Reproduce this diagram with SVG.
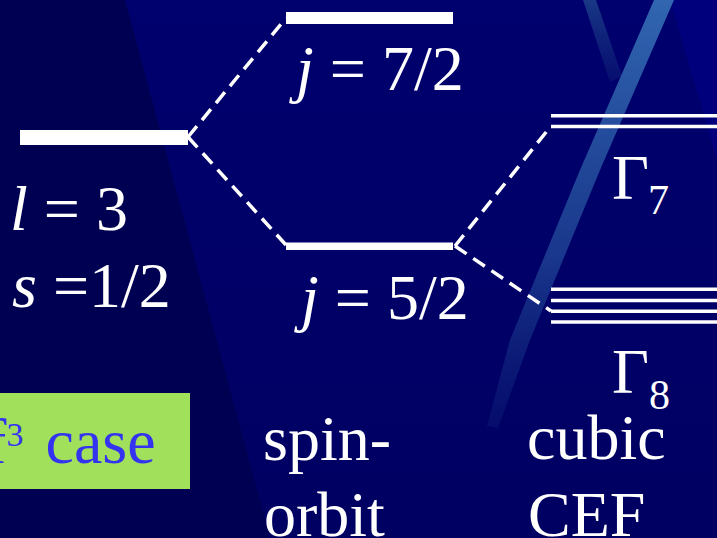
<svg xmlns="http://www.w3.org/2000/svg" width="717" height="538" viewBox="0 0 717 538">
  <defs>
    <linearGradient id="streak" x1="0" y1="0" x2="0" y2="1">
      <stop offset="0" stop-color="#3a78bc" stop-opacity="0.85"/>
      <stop offset="0.6" stop-color="#2a5ca4" stop-opacity="0.6"/>
      <stop offset="1" stop-color="#1a3c88" stop-opacity="0.2"/>
    </linearGradient>
    <linearGradient id="streak2" x1="0" y1="0" x2="0" y2="1">
      <stop offset="0" stop-color="#20468c" stop-opacity="0.8"/>
      <stop offset="1" stop-color="#14307a" stop-opacity="0.3"/>
    </linearGradient>
    <linearGradient id="bg" x1="0" y1="0" x2="0" y2="1">
      <stop offset="0" stop-color="#00006e"/>
      <stop offset="1" stop-color="#000062"/>
    </linearGradient>
  </defs>
  <style>
    .t { font-family: "Liberation Serif", "Times New Roman", serif; fill: #ffffff; font-size: 64px; }
    .it { font-style: italic; }
    .sub { font-size: 42px; }
    .bar { fill: #ffffff; }
    .thin { stroke: #ffffff; stroke-width: 3.6; }
    .dash { stroke: #ffffff; stroke-width: 3.5; stroke-dasharray: 14 8; fill: none; }
    .blue { font-family: "Liberation Serif", "Times New Roman", serif; fill: #3434f0; font-size: 64px; }
    .sup { font-size: 34px; }
  </style>

  <!-- background -->
  <g id="background">
    <rect x="0" y="0" width="717" height="538" fill="url(#bg)"/>
    <polygon points="0,0 125,0 270,538 0,538" fill="#000052"/>
    <polygon points="670,0 717,0 717,160" fill="#00007c"/>
    <polygon points="583,0 596,0 622,76 610,82" fill="url(#streak2)"/>
    <polygon points="654,0 674,0 600,170 530,340 498,428 487,426 510,340 580,170" fill="url(#streak)"/>
  </g>

  <!-- connectors -->
  <g id="connectors">
    <line class="dash" x1="188" y1="137" x2="286" y2="18"/>
    <line class="dash" x1="188" y1="137" x2="286" y2="245"/>
    <line class="dash" x1="455" y1="246" x2="551" y2="126"/>
    <line class="dash" x1="455" y1="246" x2="551" y2="311"/>
  </g>

  <!-- nodes -->
  <g id="level-l3">
    <rect class="bar" x="20" y="130" width="168" height="15"/>
    <text class="t" x="10" y="230"><tspan class="it">l</tspan> = 3</text>
    <text class="t" x="12" y="307"><tspan class="it">s</tspan> =1/2</text>
  </g>

  <g id="level-j72">
    <rect class="bar" x="286" y="12" width="167" height="12"/>
    <text class="t" x="296" y="90"><tspan class="it">j</tspan> = 7/2</text>
  </g>

  <g id="level-j52">
    <rect class="bar" x="286" y="242.5" width="167" height="7.5"/>
    <text class="t" x="301" y="319"><tspan class="it">j</tspan> = 5/2</text>
  </g>

  <g id="level-g7">
    <line class="thin" x1="551" y1="115.7" x2="717" y2="115.7"/>
    <line class="thin" x1="551" y1="126.5" x2="717" y2="126.5"/>
    <text class="t" x="612" y="199">Γ</text>
    <text class="t sub" x="648" y="214">7</text>
  </g>

  <g id="level-g8">
    <line class="thin" x1="551" y1="289.2" x2="717" y2="289.2"/>
    <line class="thin" x1="551" y1="300.5" x2="717" y2="300.5"/>
    <line class="thin" x1="551" y1="311.3" x2="717" y2="311.3"/>
    <line class="thin" x1="551" y1="322" x2="717" y2="322"/>
    <text class="t" x="612" y="393">Γ</text>
    <text class="t sub" x="649" y="409">8</text>
  </g>

  <g id="label-f3">
    <rect x="0" y="393" width="190" height="96" fill="#a0e05a"/>
    <text class="blue" x="-15" y="463">f</text>
    <text class="blue sup" x="6.5" y="446">3</text>
    <text class="blue" x="45.5" y="463">case</text>
  </g>

  <g id="label-spin-orbit">
    <text class="t" x="263" y="460">spin-</text>
    <text class="t" x="264" y="536">orbit</text>
  </g>

  <g id="label-cubic-cef">
    <text class="t" x="527" y="459">cubic</text>
    <text class="t" x="528" y="536">CEF</text>
  </g>
</svg>
